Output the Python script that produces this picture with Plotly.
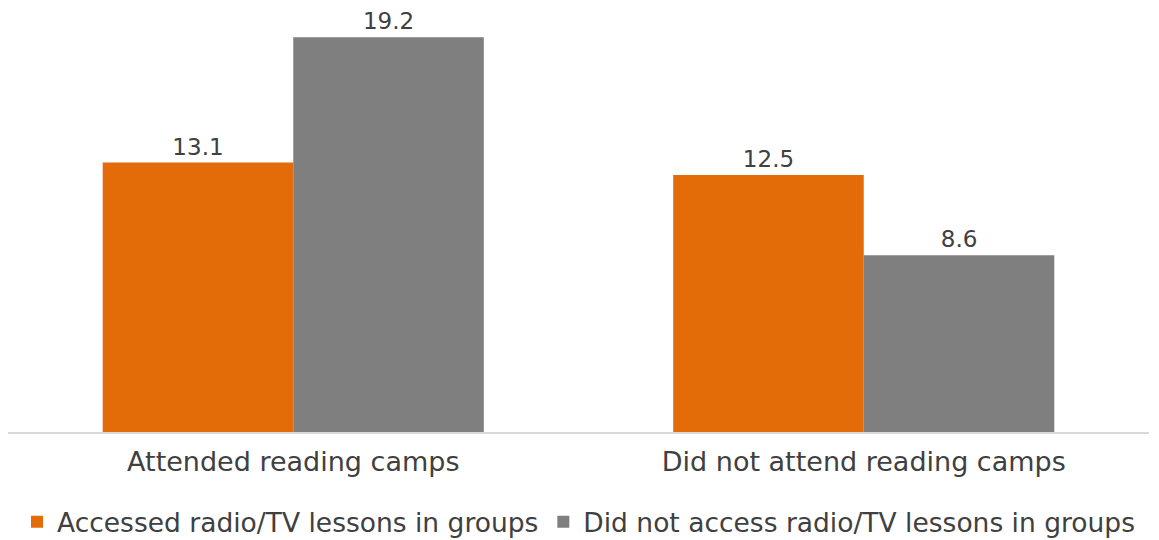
import plotly.graph_objects as go

categories = ["Attended reading camps", "Did not attend reading camps"]
series_names = ["Accessed radio/TV lessons in groups", "Did not access radio/TV lessons in groups"]
accessed = [13.1, 12.5]
not_accessed = [19.2, 8.6]
colors = ["#E36C09", "#7F7F7F"]

FONT = "DejaVu Sans"
TXT = "#404040"

fig = go.Figure()
for name, vals, col in zip(series_names, [accessed, not_accessed], colors):
    fig.add_trace(go.Bar(
        x=categories, y=vals, name=name,
        marker=dict(color=col, line=dict(width=0)),
        text=[f"{v:.1f}" for v in vals], textposition="outside",
        textfont=dict(family=FONT, size=23, color=TXT),
        cliponaxis=False,
    ))

# the page body adds an 8px offset; figure sized to fit the 1159x540 window
fig.update_layout(
    width=1151, height=532,
    margin=dict(l=0, r=10, t=2, b=108, autoexpand=False),
    paper_bgcolor="white", plot_bgcolor="white",
    barmode="group", bargap=0.332, bargroupgap=0,
    font=dict(family=FONT, size=27, color=TXT),
    showlegend=True,
    legend=dict(orientation="h", x=0.5, xanchor="center", y=-0.2133, yanchor="middle",
                font=dict(family=FONT, size=26.5, color=TXT), itemwidth=30,
                traceorder="normal"),
    xaxis=dict(showline=True, linecolor="#D9D9D9", linewidth=1.5, ticks="",
               tickfont=dict(family=FONT, size=27, color=TXT), showgrid=False,
               automargin=False, ticklabelstandoff=5),
    yaxis=dict(range=[0, 20.52], visible=False, showgrid=False, zeroline=False,
               automargin=False),
)

fig.write_html("out.html")
